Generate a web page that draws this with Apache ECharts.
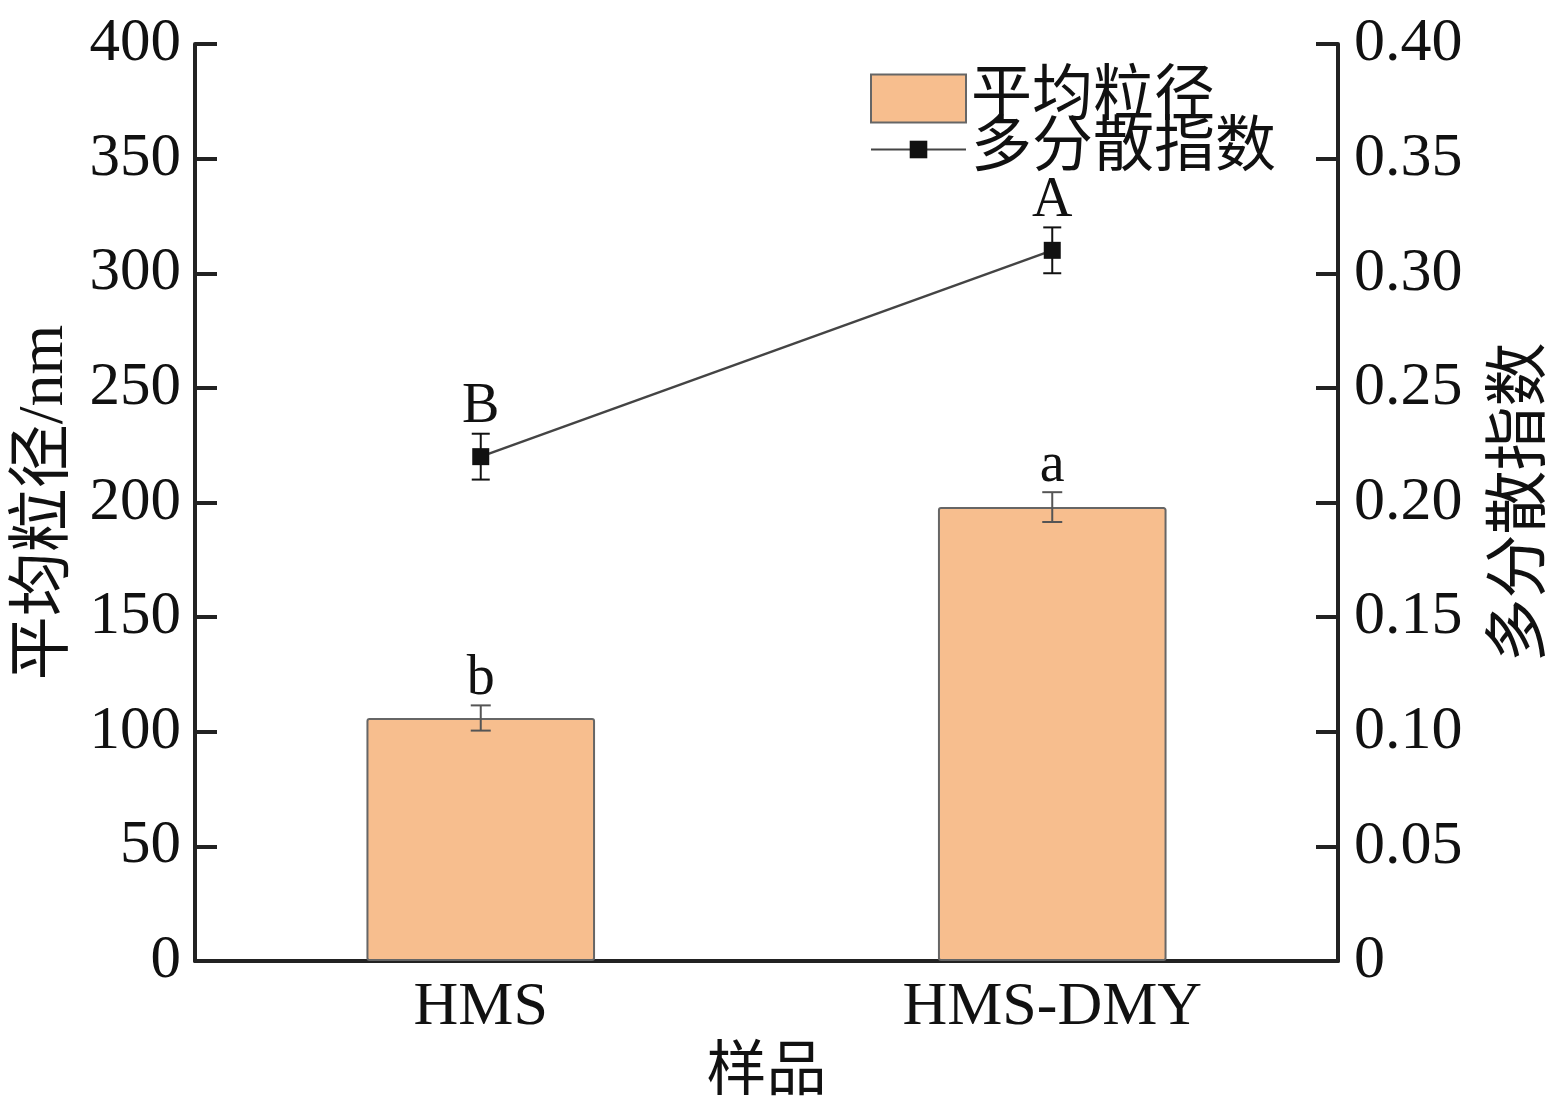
<!DOCTYPE html>
<html><head><meta charset="utf-8">
<script src="https://cdn.jsdelivr.net/npm/echarts@6/dist/echarts.min.js"></script>
<style>html,body{margin:0;padding:0;background:#fff}#c{width:1562px;height:1106px}</style>
</head><body><div id="c"></div>
<script>
const categories = ['HMS', 'HMS-DMY'];
const sizeValues = [106, 198];
const sizeErr = [5.5, 6.5];
const sizeLetters = ['b', 'a'];
const pdiValues = [0.22, 0.31];
const pdiErr = [0.01, 0.01];
const pdiLetters = ['B', 'A'];
const leftTicks = [0, 50, 100, 150, 200, 250, 300, 350, 400];
const rightTicks = [0, 0.05, 0.10, 0.15, 0.20, 0.25, 0.30, 0.35, 0.40];

const FONT = '"Liberation Serif", "Noto Sans CJK SC", serif';
const AX = '#222';

function errSeries(name, yIdx, vals, errs, letters, color, capW) {
  return {
    type: 'custom', name: name, yAxisIndex: yIdx, z: 5,
    data: vals.map((v, i) => [i, v + errs[i], v - errs[i]]),
    renderItem: function (params, api) {
      const x = api.value(0);
      const hi = api.coord([x, api.value(1)]);
      const lo = api.coord([x, api.value(2)]);
      const st = { stroke: color, lineWidth: 2 };
      return { type: 'group', children: [
        { type: 'line', shape: { x1: hi[0], y1: hi[1], x2: lo[0], y2: lo[1] }, style: st },
        { type: 'line', shape: { x1: hi[0] - capW, y1: hi[1], x2: hi[0] + capW, y2: hi[1] }, style: st },
        { type: 'line', shape: { x1: lo[0] - capW, y1: lo[1], x2: lo[0] + capW, y2: lo[1] }, style: st },
        { type: 'text', x: hi[0], y: hi[1] + 2, style: { text: letters[params.dataIndex], fill: '#111',
          font: '56px ' + FONT, align: 'center', verticalAlign: 'bottom' } }
      ]};
    },
    tooltip: { show: false }
  };
}

const chart = echarts.init(document.getElementById('c'));
chart.setOption({
  animation: false,
  grid: { left: 195, right: 224, top: 44, bottom: 145, containLabel: false, outerBoundsMode: 'none' },
  legend: [
    { data: [{ name: '平均粒径', icon: 'rect' }], orient: 'vertical', left: 865, top: 63, itemWidth: 95, itemHeight: 48,
      textStyle: { fontFamily: FONT, fontSize: 61, color: '#111' } },
    { data: ['多分散指数'], orient: 'vertical', left: 865, top: 114, itemWidth: 95, itemHeight: 22,
      textStyle: { fontFamily: FONT, fontSize: 61, color: '#111' } }
  ],
  xAxis: {
    type: 'category', data: categories,
    name: '样品', nameLocation: 'middle', nameGap: 80,
    nameTextStyle: { fontFamily: FONT, fontSize: 60, color: '#111' },
    axisLine: { lineStyle: { color: AX, width: 4 } },
    axisTick: { show: false },
    axisLabel: { fontFamily: FONT, fontSize: 62, color: '#111', margin: 16 }
  },
  yAxis: [
    { type: 'value', min: 0, max: 400, interval: 50, position: 'left',
      name: '平均粒径/nm', nameLocation: 'middle', nameGap: 118,
      nameTextStyle: { fontFamily: FONT, fontSize: 64, color: '#111' },
      axisLine: { show: true, lineStyle: { color: AX, width: 4 } },
      axisTick: { show: true, inside: true, length: 22, lineStyle: { color: AX, width: 4 } },
      axisLabel: { fontFamily: FONT, fontSize: 61, color: '#111', margin: 14,
        formatter: v => leftTicks.includes(v) ? String(v) : '' },
      splitLine: { show: false } },
    { type: 'value', min: 0, max: 0.4, interval: 0.05, position: 'right',
      name: '多分散指数', nameLocation: 'middle', nameGap: 152, nameRotate: 90,
      nameTextStyle: { fontFamily: FONT, fontSize: 64, color: '#111' },
      axisLine: { show: true, lineStyle: { color: AX, width: 4 } },
      axisTick: { show: true, inside: true, length: 22, lineStyle: { color: AX, width: 4 } },
      axisLabel: { fontFamily: FONT, fontSize: 62, color: '#111', margin: 16,
        formatter: v => { const r = rightTicks.find(t => Math.abs(t - v) < 1e-9); return r === 0 ? '0' : (r !== undefined ? r.toFixed(2) : ''); } },
      splitLine: { show: false } }
  ],
  series: [
    { type: 'bar', name: '平均粒径', data: sizeValues, barWidth: '40%', yAxisIndex: 0,
      itemStyle: { color: '#F7BE8E', borderColor: '#666', borderWidth: 2, borderRadius: 2 } },
    errSeries('err1', 0, sizeValues, sizeErr, sizeLetters, '#555', 10),
    { type: 'line', name: '多分散指数', data: pdiValues, yAxisIndex: 1, z: 6,
      symbol: 'rect', symbolSize: 17,
      lineStyle: { color: '#444', width: 2.5 },
      itemStyle: { color: '#111' } },
    errSeries('err2', 1, pdiValues, pdiErr, pdiLetters, '#111', 9)
  ]
});
</script></body></html>
